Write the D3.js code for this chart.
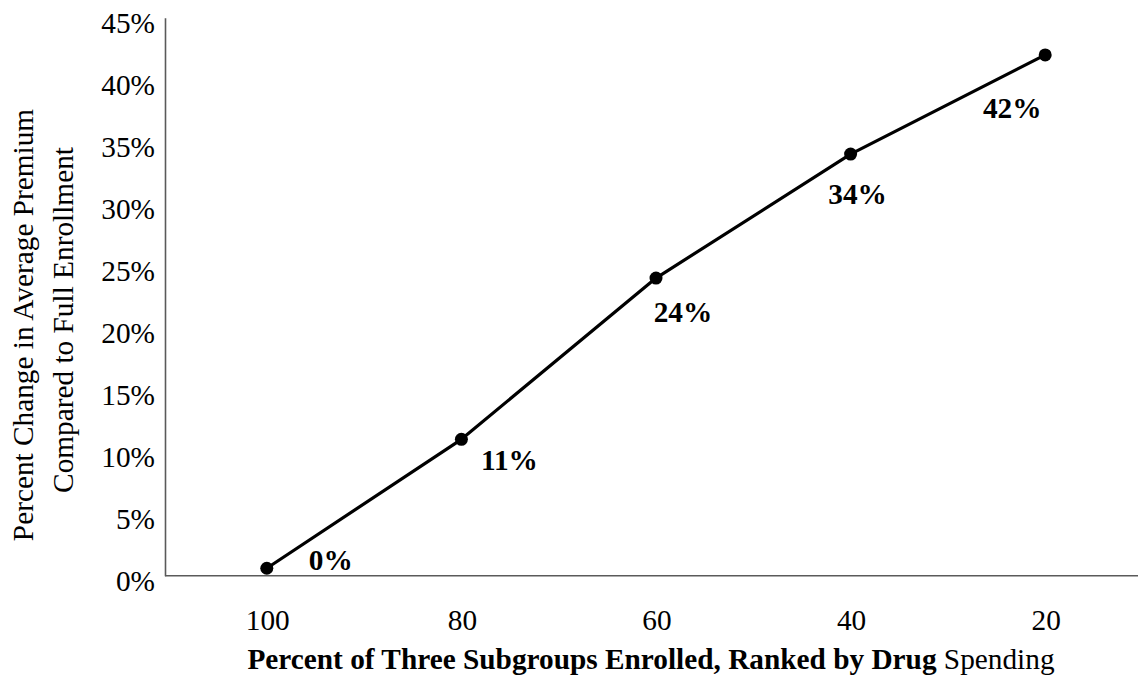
<!DOCTYPE html>
<html>
<head>
<meta charset="utf-8">
<script src="https://cdn.jsdelivr.net/npm/d3@7"></script>
</head>
<body style="margin:0">
<svg id="chart" width="1138" height="687"></svg>
<script>
// ---- data ----
const categories = ["100", "80", "60", "40", "20"];
const values = [0.6, 11.0, 24.0, 34.0, 42.0];
const valueLabels = ["0%", "11%", "24%", "34%", "42%"];
const yTicks = [0, 5, 10, 15, 20, 25, 30, 35, 40, 45];
const xTitleBold = "Percent of Three Subgroups Enrolled, Ranked by Drug";
const xTitleNormal = " Spending";
const yTitleLines = ["Percent Change in Average Premium", "Compared to Full Enrollment"];

// label placement offsets relative to each point (layout, not data)
const labelDx = [64, 48, 27, 7, -33];
const labelDy = [2, 31, 44, 50, 63];

// ---- layout ----
const FONT = '"Liberation Serif"';
const svg = d3.select("#chart");
const plot = { left: 165, right: 1138, top: 17.7, bottom: 575.7 };
const fontSize = 29.3;

function serif(sel) {
  return sel.attr("font-family", FONT).attr("fill", "#000");
}

const x = d3.scalePoint().domain(categories).range([169.5, 1142.5]).padding(0.5);
const y = d3.scaleLinear().domain([0, 45]).range([plot.bottom, plot.top]);

// y axis
const yAxis = d3.axisLeft(y).tickValues(yTicks).tickSize(0).tickPadding(10)
  .tickFormat(d => d + "%");
const gy = svg.append("g").attr("transform", `translate(${plot.left},0)`).call(yAxis);
gy.attr("font-family", FONT).attr("font-size", fontSize);
gy.select(".domain").attr("stroke", "#5a5a5a").attr("stroke-width", 1.6);
gy.selectAll("text")
  .call(serif)
  .attr("font-size", fontSize)
  .attr("dy", "0.52em");

// x axis line
svg.append("line")
  .attr("x1", plot.left).attr("x2", plot.right)
  .attr("y1", y(0)).attr("y2", y(0))
  .attr("stroke", "#5a5a5a").attr("stroke-width", 1.6);

// x tick labels
svg.append("g").selectAll("text").data(categories).join("text")
  .call(serif)
  .attr("x", d => x(d) + 1)
  .attr("y", 630)
  .attr("text-anchor", "middle")
  .attr("font-size", fontSize)
  .text(d => d);

// line
const pts = categories.map((c, i) => [x(c), y(values[i])]);
svg.append("path")
  .attr("d", d3.line()(pts))
  .attr("fill", "none")
  .attr("stroke", "#000")
  .attr("stroke-width", 3.2)
  .attr("stroke-linejoin", "round");

// markers
svg.append("g").selectAll("circle").data(pts).join("circle")
  .attr("cx", d => d[0]).attr("cy", d => d[1]).attr("r", 6.5)
  .attr("fill", "#000");

// data labels
svg.append("g").selectAll("text").data(valueLabels).join("text")
  .call(serif)
  .attr("x", (d, i) => pts[i][0] + labelDx[i])
  .attr("y", (d, i) => pts[i][1] + labelDy[i])
  .attr("text-anchor", "middle")
  .attr("font-size", fontSize)
  .attr("font-weight", "bold")
  .text(d => d);

// x title
const xt = svg.append("text")
  .call(serif)
  .attr("x", 651).attr("y", 669)
  .attr("text-anchor", "middle")
  .attr("font-size", fontSize);
xt.append("tspan").attr("font-weight", "bold").text(xTitleBold);
xt.append("tspan").attr("font-weight", "normal").text(xTitleNormal);

// y title
const yt = svg.append("g").attr("transform", "translate(33,325) rotate(-90)");
yt.append("text").call(serif).attr("x", 0).attr("y", 0)
  .attr("text-anchor", "middle").attr("font-size", fontSize).text(yTitleLines[0]);
yt.append("text").call(serif).attr("x", 5).attr("y", 39.5)
  .attr("text-anchor", "middle").attr("font-size", fontSize).text(yTitleLines[1]);
</script>
</body>
</html>
